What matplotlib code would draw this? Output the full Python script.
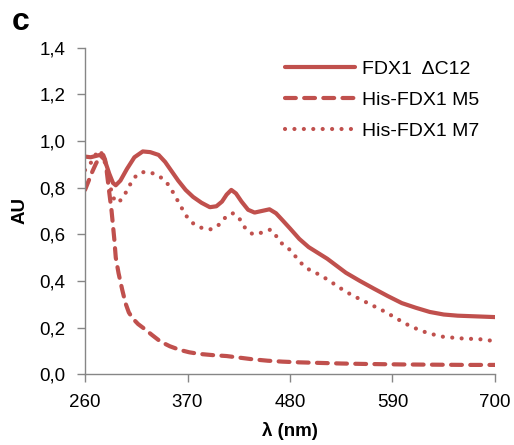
import matplotlib
matplotlib.use("Agg")
import matplotlib.pyplot as plt
from matplotlib.ticker import FuncFormatter

plt.rcParams['font.family'] = ['Liberation Sans', 'DejaVu Sans']

# FDX1 dC12 (solid)
wl_c12 = [260, 266, 271, 276, 281, 286, 290, 293, 298, 305, 313, 322, 330, 339,
          346, 353, 360, 368, 376, 385, 394, 401, 407, 412, 417, 422, 428, 435,
          442, 450, 458, 465, 472, 480, 490, 500, 510, 520, 530, 540, 555, 570,
          585, 600, 615, 630, 645, 660, 680, 700]
au_c12 = [0.933, 0.93, 0.935, 0.94, 0.92, 0.86, 0.82, 0.81, 0.83, 0.88, 0.93,
          0.955, 0.952, 0.94, 0.91, 0.87, 0.83, 0.79, 0.76, 0.735, 0.716, 0.72,
          0.74, 0.77, 0.79, 0.775, 0.74, 0.705, 0.693, 0.70, 0.707, 0.69, 0.66,
          0.625, 0.58, 0.545, 0.52, 0.495, 0.465, 0.435, 0.40, 0.367, 0.335,
          0.305, 0.285, 0.267, 0.256, 0.251, 0.248, 0.245]

# His-FDX1 M5 (dashed)
wl_m5 = [260, 264, 268, 272, 276, 279.5, 281.5, 283, 286, 288.5, 291.5, 293,
         296, 300, 303.5, 307, 311, 317, 323, 332, 341, 351, 362, 372, 383,
         397, 412, 426, 440, 456, 472, 490, 508, 535, 562, 600, 634, 670, 700]
au_m5 = [0.79, 0.83, 0.87, 0.905, 0.93, 0.94, 0.92, 0.88, 0.78, 0.70, 0.576,
         0.50, 0.433, 0.361, 0.304, 0.265, 0.24, 0.215, 0.197, 0.168, 0.14,
         0.12, 0.104, 0.094, 0.087, 0.082, 0.078, 0.071, 0.064, 0.058, 0.054,
         0.051, 0.049, 0.046, 0.044, 0.042, 0.041, 0.04, 0.04]

# His-FDX1 M7 (dotted)
wl_m7 = [260, 263, 267, 272, 276, 280, 284, 288, 292, 297, 304, 310, 316, 324,
         333, 343, 350, 355, 360, 365, 370, 377, 387, 396, 405, 412, 419, 426,
         432, 440, 450, 459, 464, 469, 480, 492, 501, 512, 521, 534, 546, 564,
         582, 600, 610, 628, 644, 662, 684, 700]
au_m7 = [0.875, 0.89, 0.91, 0.945, 0.96, 0.93, 0.86, 0.79, 0.74, 0.74, 0.78,
         0.825, 0.857, 0.868, 0.861, 0.84, 0.81, 0.776, 0.74, 0.704, 0.671,
         0.643, 0.624, 0.621, 0.644, 0.679, 0.69, 0.665, 0.626, 0.60, 0.607,
         0.62, 0.60, 0.568, 0.533, 0.476, 0.447, 0.426, 0.404, 0.369, 0.34,
         0.304, 0.268, 0.226, 0.204, 0.176, 0.161, 0.154, 0.15, 0.142]

labels = ['FDX1  \u0394C12', 'His-FDX1 M5', 'His-FDX1 M7']
xticks = [260, 370, 480, 590, 700]
yticks = [0.0, 0.2, 0.4, 0.6, 0.8, 1.0, 1.2, 1.4]

red = '#C0504D'
grey = '#868686'

fig = plt.figure(figsize=(5.14, 4.45), dpi=100)
ax = fig.add_axes([0.1654, 0.159, 0.7976, 0.734])

ax.plot(wl_c12, au_c12, color=red, lw=3.0, solid_capstyle='round',
        solid_joinstyle='round', label=labels[0])
ax.plot(wl_m5, au_m5, color=red, lw=3.0, linestyle=(0, (2.6, 2.0)),
        dash_capstyle='round', label=labels[1])
ax.plot(wl_m7, au_m7, color=red, lw=3.0, linestyle=(0, (0.01, 2.25)),
        dash_capstyle='round', label=labels[2])

ax.set_xlim(260, 700)
ax.set_ylim(0, 1.4)
ax.set_xticks(xticks)
ax.set_yticks(yticks)
ax.yaxis.set_major_formatter(FuncFormatter(lambda v, p: f'{v:.1f}'.replace('.', ',')))

for s in ['top', 'right']:
    ax.spines[s].set_visible(False)
for s in ['left', 'bottom']:
    ax.spines[s].set_color(grey)
    ax.spines[s].set_linewidth(1.0)
ax.tick_params(axis='both', direction='out', length=6, width=1.0,
               color=grey, labelsize=13.5, labelcolor='black')
ax.tick_params(axis='x', pad=8)
ax.tick_params(axis='y', pad=8)

ax.set_xlabel('\u03bb (nm)', fontsize=13.5, fontweight='bold', labelpad=8)
ax.set_ylabel('AU', fontsize=13.5, fontweight='bold', labelpad=8)

leg = ax.legend(loc='upper left', bbox_to_anchor=(0.469, 0.984), frameon=False,
                fontsize=14, handlelength=3.6, handletextpad=0.36,
                labelspacing=0.68, borderaxespad=0)

fig.text(0.022, 0.985, 'c', fontsize=23, fontweight='bold', va='top', ha='left')

fig.savefig('out.png', dpi=100)
